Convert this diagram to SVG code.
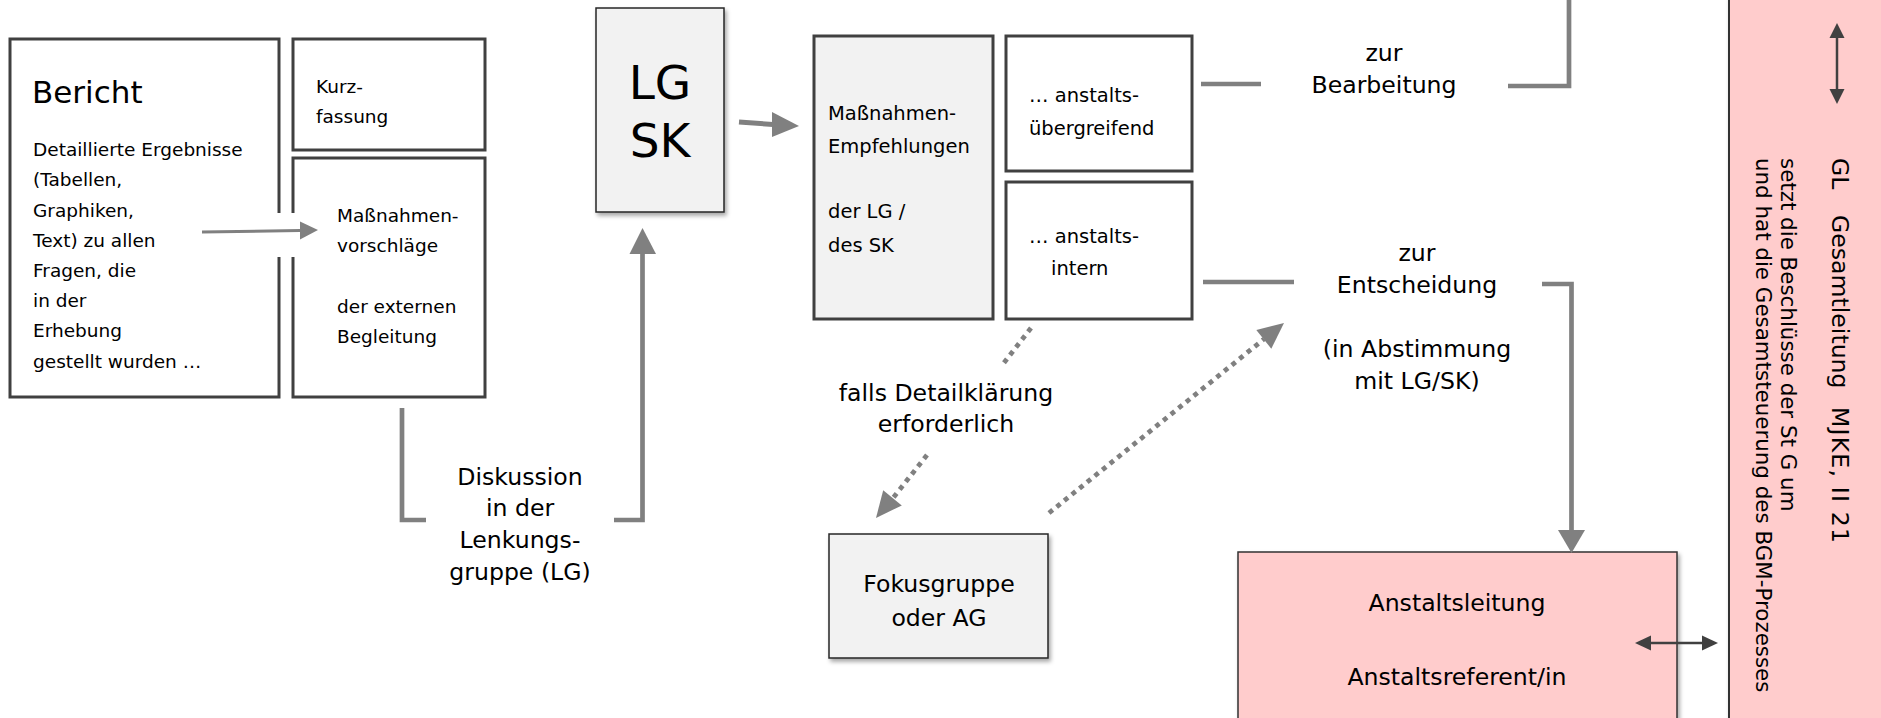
<svg xmlns="http://www.w3.org/2000/svg" width="1881" height="718" viewBox="0 0 1881 718">
<defs>
<filter id="sh" x="-10%" y="-10%" width="130%" height="130%"><feDropShadow dx="2" dy="3" stdDeviation="2" flood-color="#000" flood-opacity="0.35"/></filter>
<style>
text{font-family:"DejaVu Sans","Verdana",sans-serif;fill:#000}
.s{font-size:18.5px}
.m{font-size:19.5px}
.l{font-size:23.6px}
.r{font-size:21.4px}
.c{text-anchor:middle}
.box{fill:#fff;stroke:#404040;stroke-width:3}
.gbox{fill:#f2f2f2;stroke:#404040;stroke-width:3}
.tbox{fill:#f2f2f2;stroke:#262626;stroke-width:1.5}
.pink{fill:#ffcccc;stroke:#333;stroke-width:1.5}
.con{fill:none;stroke:#808080;stroke-width:4.7}
.thin{fill:none;stroke:#808080;stroke-width:3}
.dot{fill:none;stroke:#808080;stroke-width:4.8;stroke-dasharray:4.8 5}
.head{fill:#808080}
.dl{fill:none;stroke:#404040;stroke-width:2.5}
.dh{fill:#404040}
</style>
</defs>

<g id="gl-panel">
<rect x="1729" y="-5" width="160" height="730" class="pink" style="stroke-width:2" filter="url(#sh)"/>
<text class="l" transform="translate(1832,158) rotate(90)"><tspan x="0">GL</tspan><tspan x="57">Gesamtleitung</tspan><tspan x="249" textLength="136" lengthAdjust="spacing">MJKE, II 21</tspan></text>
<text class="r" transform="translate(1781,158) rotate(90)">setzt die Beschlüsse der St G um</text>
<text class="r" transform="translate(1756,158) rotate(90)">und hat die Gesamtsteuerung des BGM-Prozesses</text>
</g>

<g id="bericht">
<rect x="10" y="39" width="269" height="358" class="box"/>
<text x="32" y="103" style="font-size:31px">Bericht</text>
<text class="s" x="33" y="156">Detaillierte Ergebnisse</text>
<text class="s" x="33" y="186">(Tabellen,</text>
<text class="s" x="33" y="217">Graphiken,</text>
<text class="s" x="33" y="247">Text) zu allen</text>
<text class="s" x="33" y="277">Fragen, die</text>
<text class="s" x="33" y="307">in der</text>
<text class="s" x="33" y="337">Erhebung</text>
<text class="s" x="33" y="368">gestellt wurden …</text>
</g>

<g id="kurzfassung">
<rect x="293" y="39" width="192" height="111" class="box"/>
<text class="s" x="316" y="93">Kurz-</text>
<text class="s" x="316" y="123">fassung</text>
</g>

<g id="massnahmenvorschlaege">
<rect x="293" y="158" width="192" height="239" class="box"/>
<text class="s" x="337" y="222">Maßnahmen-</text>
<text class="s" x="337" y="252">vorschläge</text>
<text class="s" x="337" y="313">der externen</text>
<text class="s" x="337" y="343">Begleitung</text>
</g>

<g id="lgsk">
<rect x="596" y="8" width="128" height="204" class="tbox" filter="url(#sh)"/>
<text class="c" x="660" y="99" style="font-size:47px">LG</text>
<text class="c" x="660" y="157" style="font-size:47px">SK</text>
</g>

<g id="empfehlungen">
<rect x="814" y="36" width="179" height="283" class="gbox"/>
<text class="m" x="828" y="120">Maßnahmen-</text>
<text class="m" x="828" y="153">Empfehlungen</text>
<text class="m" x="828" y="218">der LG /</text>
<text class="m" x="828" y="252">des SK</text>
</g>

<g id="uebergreifend">
<rect x="1006" y="36" width="186" height="135" class="box"/>
<text class="m" x="1029" y="102">… anstalts-</text>
<text class="m" x="1029" y="135">übergreifend</text>
</g>

<g id="intern">
<rect x="1006" y="182" width="186" height="137" class="box"/>
<text class="m" x="1029" y="243">… anstalts-</text>
<text class="m" x="1051" y="275">intern</text>
</g>

<g id="fokusgruppe">
<rect x="829" y="534" width="219" height="124" class="tbox" filter="url(#sh)"/>
<text class="l c" x="939" y="592">Fokusgruppe</text>
<text class="l c" x="939" y="626">oder AG</text>
</g>

<g id="anstaltsleitung">
<rect x="1238" y="552" width="439" height="190" class="pink" filter="url(#sh)"/>
<text class="l c" x="1457" y="611">Anstaltsleitung</text>
<text class="l c" x="1457" y="685">Anstaltsreferent/in</text>
</g>

<g id="labels">
<text class="l c" x="520" y="485">Diskussion</text>
<text class="l c" x="520" y="516">in der</text>
<text class="l c" x="520" y="548">Lenkungs-</text>
<text class="l c" x="520" y="580">gruppe (LG)</text>
<text class="l c" x="946" y="401">falls Detailklärung</text>
<text class="l c" x="946" y="432">erforderlich</text>
<text class="l c" x="1384" y="61">zur</text>
<text class="l c" x="1384" y="93">Bearbeitung</text>
<text class="l c" x="1417" y="261">zur</text>
<text class="l c" x="1417" y="293">Entscheidung</text>
<text class="l c" x="1417" y="357">(in Abstimmung</text>
<text class="l c" x="1417" y="389">mit LG/SK)</text>
</g>

<g id="connectors">
<rect x="272" y="213" width="28" height="44" fill="#fff"/>
<path class="thin" d="M202,232 L300,230.5"/>
<polygon class="head" points="300,221.5 300,239.5 318,230"/>
<path class="con" d="M402,408 V520 H426"/>
<path class="con" d="M614,520 H642.5 V252"/>
<polygon class="head" points="629.5,254 656,254 642.5,228"/>
<path class="con" style="stroke-width:5" d="M739,122 L773,124.5"/>
<polygon class="head" points="772,112 772,137 799,126"/>
<path class="con" d="M1201,84 H1261"/>
<path class="con" d="M1508,86 H1569 V-5"/>
<path class="con" d="M1203,282 H1294"/>
<path class="con" d="M1542,284 H1571.5 V532"/>
<polygon class="head" points="1558,530 1585,530 1571.5,553"/>
<path class="dot" d="M1031,328 L1003,364"/>
<path class="dot" d="M927,455 L893,498"/>
<polygon class="head" points="876,518 883.2,490.2 901.8,505.4"/>
<path class="dot" d="M1049,513 L1264,339"/>
<polygon class="head" points="1284,323 1256.3,330.1 1271.3,348.7"/>
<path class="dl" d="M1837,37 V90"/>
<polygon class="dh" points="1837,23 1829.5,38 1844.5,38"/>
<polygon class="dh" points="1837,104 1829.5,89 1844.5,89"/>
<path class="dl" d="M1650,643 H1703"/>
<polygon class="dh" points="1635,643 1651,635.5 1651,650.5"/>
<polygon class="dh" points="1718,643 1702,635.5 1702,650.5"/>
</g>
</svg>
